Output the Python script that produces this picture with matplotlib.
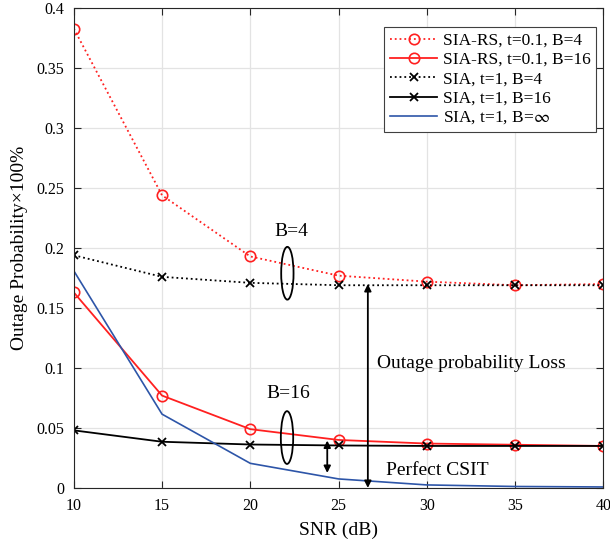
import matplotlib
matplotlib.use("Agg")
import matplotlib.pyplot as plt
from matplotlib.patches import Ellipse

snr = [10, 15, 20, 25, 30, 35, 40]
sia_rs_b4 = [0.383, 0.244, 0.193, 0.177, 0.172, 0.169, 0.170]
sia_rs_b16 = [0.163, 0.077, 0.049, 0.040, 0.037, 0.036, 0.035]
sia_b4 = [0.194, 0.176, 0.171, 0.169, 0.169, 0.169, 0.169]
sia_b16 = [0.048, 0.0385, 0.0362, 0.0354, 0.035, 0.035, 0.035]
sia_inf = [0.181, 0.0615, 0.0205, 0.0075, 0.0025, 0.0012, 0.0008]

xticks = [10, 15, 20, 25, 30, 35, 40]
yticks = [0, 0.05, 0.1, 0.15, 0.2, 0.25, 0.3, 0.35, 0.4]
ytick_labels = ["0", "0.05", "0.1", "0.15", "0.2", "0.25", "0.3", "0.35", "0.4"]

plt.rcParams['font.family'] = ['Liberation Serif', 'DejaVu Serif']
plt.rcParams['mathtext.fontset'] = 'stix'

fig = plt.figure(figsize=(6.1, 5.47), dpi=100)
ax = fig.add_axes([0.121, 0.108, 0.868, 0.877])

red = '#ff2020'
blue = '#2d55a8'
ax.plot(snr, sia_rs_b4, ':', color=red, lw=1.3, marker='o', mfc='none', mec=red, ms=7.5, mew=1.2,
        label='SIA-RS, t=0.1, B=4')
ax.plot(snr, sia_rs_b16, '-', color=red, lw=1.3, marker='o', mfc='none', mec=red, ms=7.5, mew=1.2,
        label='SIA-RS, t=0.1, B=16')
ax.plot(snr, sia_b4, ':', color='black', lw=1.3, marker='x', ms=5.5, mew=1.3,
        label='SIA, t=1, B=4')
ax.plot(snr, sia_b16, '-', color='black', lw=1.3, marker='x', ms=5.5, mew=1.3,
        label='SIA, t=1, B=16')
ax.plot(snr, sia_inf, '-', color=blue, lw=1.2, label=r'SIA, t=1, B=$\infty$')

ax.set_xlim(10, 40)
ax.set_ylim(0, 0.4)
ax.set_xticks(xticks)
ax.set_yticks(yticks)
ax.set_yticklabels(ytick_labels)
ax.tick_params(direction='in', top=True, right=True, labelsize=11.5, length=5, color='#262626', pad=7)
ax.grid(True, color='#e3e3e3', lw=0.9)
ax.set_axisbelow(True)
for s in ax.spines.values():
    s.set_color('#262626')
    s.set_linewidth(0.8)

ax.set_xlabel('SNR (dB)', fontsize=14, labelpad=6)
ax.set_ylabel('Outage Probability×100%', fontsize=14, labelpad=6)

# annotations
ax.add_patch(Ellipse((22.1, 0.179), 0.7, 0.044, fill=False, ec='black', lw=1.3, zorder=5))
ax.text(22.35, 0.214, 'B=4', fontsize=14, ha='center', va='center')
ax.add_patch(Ellipse((22.08, 0.042), 0.7, 0.044, fill=False, ec='black', lw=1.3, zorder=5))
ax.text(22.14, 0.0785, 'B=16', fontsize=14, ha='center', va='center')

ax.annotate('', xy=(24.36, 0.0395), xytext=(24.36, 0.0125),
            arrowprops=dict(arrowstyle='<|-|>', color='black', lw=1.3, mutation_scale=10, shrinkA=0, shrinkB=0))
ax.annotate('', xy=(26.66, 0.170), xytext=(26.66, 0.0),
            arrowprops=dict(arrowstyle='<|-|>', color='black', lw=1.3, mutation_scale=10, shrinkA=0, shrinkB=0))
ax.text(27.16, 0.104, 'Outage probability Loss', fontsize=14, ha='left', va='center')
ax.text(27.7, 0.0143, 'Perfect CSIT', fontsize=14, ha='left', va='center')

leg = ax.legend(loc='upper right', bbox_to_anchor=(0.987, 0.960), fontsize=12.5, frameon=True,
                fancybox=False, edgecolor='#404040', framealpha=1, handlelength=2.75,
                handletextpad=0.35, borderpad=0.3, labelspacing=0.18, borderaxespad=0)
leg.get_frame().set_linewidth(0.8)

fig.savefig('out.png', dpi=100)
